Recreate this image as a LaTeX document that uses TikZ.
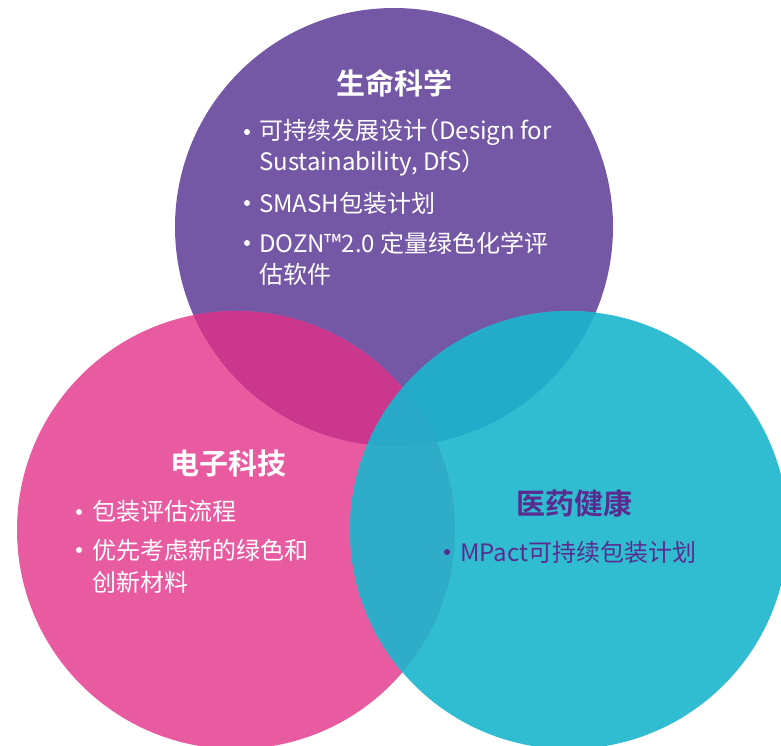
\documentclass[tikz,border=0pt]{standalone}
\usepackage{fontspec}
\setmainfont{Noto Sans CJK SC}[BoldFont={Noto Sans CJK SC Bold}]
\usepackage{xcolor}
\usepackage{tikz}

\definecolor{lifepurple}{HTML}{7558A5}
\definecolor{elecpink}{HTML}{E95BA1}
\definecolor{medcyan}{HTML}{31BDD1}
\definecolor{lifeelec}{HTML}{CB378C}
\definecolor{lifemed}{HTML}{22ACC9}
\definecolor{elecmed}{HTML}{2FACC8}
\definecolor{allthree}{HTML}{29A9C8}
\definecolor{darkpurple}{HTML}{5A2C90}

\tikzset{
  title/.style={anchor=base, inner sep=0pt, font=\fontsize{29}{35}\bfseries\selectfont},
  itemline/.style={anchor=base west, inner sep=0pt, font=\fontsize{24}{31}\selectfont},
  dot/.style={circle, fill, inner sep=0pt, minimum size=6pt}
}

\begin{document}
\begin{tikzpicture}[x=1pt, y=-1pt]
        \useasboundingbox (0,0) rectangle (781,746);

        % Centres of the three circles
        \coordinate (life) at (394,227);
        \coordinate (elec) at (236,530);
        \coordinate (med) at (569,530);

        % Draw the three circles
        \fill[lifepurple] (life) circle[radius=219];
        \fill[elecpink] (elec) circle[radius=219];
        \fill[medcyan] (med) circle[radius=219];

        % Colour the overlaps
        \begin{scope}
            \clip (life) circle[radius=219];
            \fill[lifeelec] (elec) circle[radius=219];
            \fill[lifemed] (med) circle[radius=219];
        \end{scope}
        \begin{scope}
            \clip (elec) circle[radius=219];
            \fill[elecmed] (med) circle[radius=219];
            \clip (life) circle[radius=219];
            \fill[allthree] (med) circle[radius=219];
        \end{scope}

        % Life science texts
        \node[title, white] (lifetitle) at (394,95) {生命科学};
        \node[dot, white] (lifedot1) at (247,132) {};
        \node[itemline, white] (life1a) at (259,140) {可持续发展设计\kern-0.5em（Design for};
        \node[itemline, white] (life1b) at (259,171) {Sustainability, DfS）};
        \node[dot, white] (lifedot2) at (247,203) {};
        \node[itemline, white] (life2) at (259,212) {SMASH包装计划};
        \node[dot, white] (lifedot3) at (247,243) {};
        \node[itemline, white] (life3a) at (259,252) {DOZN™2.0 定量绿色化学评};
        \node[itemline, white] (life3b) at (259,283) {估软件};

        % Electronics texts
        \node[title, white] (electitle) at (228,474) {电子科技};
        \node[dot, white] (elecdot1) at (79,512) {};
        \node[itemline, white] (elec1) at (92,520) {包装评估流程};
        \node[dot, white] (elecdot2) at (79,550) {};
        \node[itemline, white] (elec2a) at (92,559) {优先考虑新的绿色和};
        \node[itemline, white] (elec2b) at (92,591) {创新材料};

        % Healthcare texts
        \node[title, darkpurple] (medtitle) at (574,514) {医药健康};
        \node[dot, darkpurple] (meddot1) at (447,552) {};
        \node[itemline, darkpurple] (med1) at (460,561) {MPact可持续包装计划};
    \end{tikzpicture}
\end{document}
